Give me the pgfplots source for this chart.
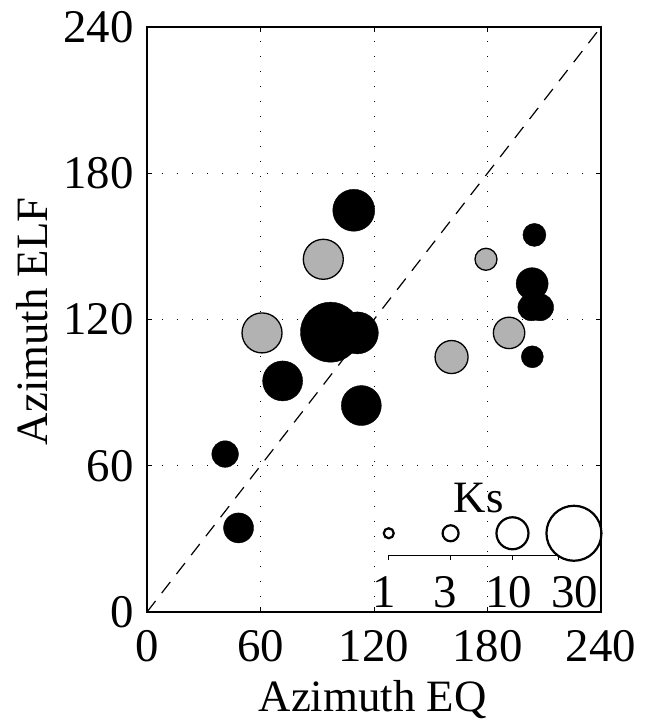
\documentclass[border=0pt]{standalone}
\usepackage{fontspec}
\setmainfont{Liberation Serif}
\usepackage{pgfplots}
\usepackage{pgfplotstable}
\pgfplotsset{compat=1.18}
\usetikzlibrary{calc}

% x, y in degrees, r = marker radius (bp)
\pgfplotstableread{
x     y     r
109.3 164.8 21
97.0  114.8 30
111.2 114.5 21
71.7  94.8  20
113.3 84.7  20
41.3  64.8  13.3
48.4  34.5  15
204.8 154.7 11.5
203.6 134.7 16
203.2 125.0 13.5
207.8 125.0 13.5
203.7 104.7 11
}\blackpts

\pgfplotstableread{
x     y     r
93.2  144.7 20
60.8  114.5 20
179.2 144.7 11
191.4 114.5 15.7
161.0 104.6 16.5
}\graypts

% size key (Ks = 1, 3, 10, 30)
\pgfplotstableread{
x     y    r
127.8 32.3 5
160.5 32.3 8
193.2 32.3 16
225.7 32.3 27.5
}\keypts

\begin{document}
\begin{tikzpicture}
\begin{axis}[
  scale only axis,
  width=454bp, height=585bp,
  xmin=0, xmax=240, ymin=0, ymax=240,
  xtick={0,60,...,240}, ytick={0,60,...,240},
  tick align=inside, xtick pos=both, ytick pos=both,
  xticklabel pos=lower, yticklabel pos=left,
  major tick length=5bp,
  tick style={black, line width=1bp},
  axis line style={black, line width=1.8bp},
  grid=major,
  grid style={black, line width=1bp, dash pattern=on 1bp off 14bp},
  /pgf/number format/assume math mode=true,
  tick label style={font=\fontsize{47}{47}\selectfont, inner sep=0pt},
  xticklabel style={yshift=-18bp},
  yticklabel style={xshift=-13bp},
  label style={font=\fontsize{45}{45}\selectfont, inner sep=0pt},
  xlabel={Azimuth EQ},
  ylabel={Azimuth ELF},
  xlabel style={at={(rel axis cs:0.497,-0.150)}, anchor=center},
  ylabel style={at={(rel axis cs:-0.252,0.497)}, anchor=center, rotate=0},
  clip=false,
]
  \coordinate (o) at (rel axis cs:0,0);
  \coordinate (t) at (rel axis cs:1,1);

  \addplot[black, line width=1.2bp, dash pattern=on 14bp off 10bp]
    coordinates {(0,0) (240,240)};

  \addplot[scatter, only marks, mark=*,
    scatter/use mapped color={draw=black, fill=black},
    visualization depends on={\thisrow{r} \as \rad},
    scatter/@pre marker code/.append style={/tikz/mark size=\rad bp}]
    table[x=x, y=y] {\blackpts};

  \addplot[scatter, only marks, mark=*,
    scatter/use mapped color={draw=black, fill=black!30},
    mark options={line width=1.3bp},
    visualization depends on={\thisrow{r} \as \rad},
    scatter/@pre marker code/.append style={/tikz/mark size=\rad bp}]
    table[x=x, y=y] {\graypts};

  % key
  \addplot[black, line width=1.2bp, mark=|, mark size=2.5bp,
    mark options={yshift=-2bp}]
    coordinates {(127.8,23.1) (160.5,23.1) (193.2,23.1) (217.7,23.1)};
  \addplot[scatter, only marks, mark=o,
    scatter/use mapped color={draw=black},
    mark options={line width=2.2bp},
    visualization depends on={\thisrow{r} \as \rad},
    scatter/@pre marker code/.append style={/tikz/mark size=\rad bp}]
    table[x=x, y=y] {\keypts};

  \node[font=\fontsize{45}{45}\selectfont, inner sep=0pt] at (axis cs:175.4,46.7) {Ks};
  \node[font=\fontsize{47}{47}\selectfont, inner sep=0pt] at (axis cs:125.2,8.2) {1};
  \node[font=\fontsize{47}{47}\selectfont, inner sep=0pt] at (axis cs:157.9,8.2) {3};
  \node[font=\fontsize{47}{47}\selectfont, inner sep=0pt] at (axis cs:191.3,8.2) {10};
  \node[font=\fontsize{47}{47}\selectfont, inner sep=0pt] at (axis cs:226.2,8.2) {30};
\end{axis}
\pgfresetboundingbox
\path ($(o)+(-147bp,-115bp)$) rectangle ($(t)+(51bp,27bp)$);
\end{tikzpicture}
\end{document}
